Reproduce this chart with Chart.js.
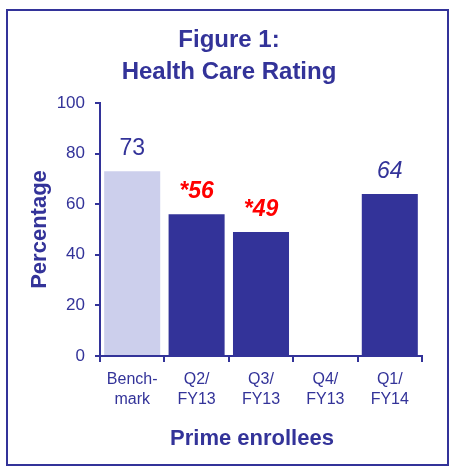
<!DOCTYPE html>
<html>
<head>
<meta charset="utf-8">
<script src="https://cdn.jsdelivr.net/npm/chart.js@4"></script>
<style>
  html, body { margin: 0; padding: 0; background: #fff; }
  #wrap { position: relative; width: 450px; height: 466px; overflow: hidden; }
  #frame {
    position: absolute; left: 6px; top: 9px; width: 439px; height: 453px;
    border: 2px solid #333399; pointer-events: none;
  }
  canvas { position: absolute; left: 0; top: 0; }
</style>
</head>
<body>
<div id="wrap">
  <canvas id="chart" width="450" height="466"></canvas>
  <div id="frame"></div>
</div>
<script>
// Data
const categories = [['Bench-', 'mark'], ['Q2/', 'FY13'], ['Q3/', 'FY13'], ['Q4/', 'FY13'], ['Q1/', 'FY14']];
const values = [73, 56, 49, null, 64];
const significant = [false, true, true, false, false];
const yTicks = [0, 20, 40, 60, 80, 100];

const navy = '#333399';
const lightBar = '#CCCFEC';
const font = '"Liberation Sans", Arial, sans-serif';

// Bar colours: first bar is the benchmark
const barColors = values.map((v, i) => i === 0 ? lightBar : navy);

// Draws value labels above the bars and the text titles
const labelPlugin = {
  id: 'labels',
  afterDatasetsDraw(chart) {
    const ctx = chart.ctx;
    const meta = chart.getDatasetMeta(0);
    ctx.save();
    ctx.textAlign = 'center';
    ctx.textBaseline = 'alphabetic';
    meta.data.forEach((bar, i) => {
      if (values[i] === null) return;
      let text = String(values[i]);
      if (significant[i]) {
        text = '*' + text;
        ctx.fillStyle = '#FF0000';
        ctx.font = 'italic bold 23px ' + font;
      } else if (i === 0) {
        ctx.fillStyle = navy;
        ctx.font = '23px ' + font;
      } else {
        ctx.fillStyle = navy;
        ctx.font = 'italic 23px ' + font;
      }
      ctx.fillText(text, bar.x, bar.y - 16);
    });

    // Figure title
    ctx.fillStyle = navy;
    ctx.font = 'bold 24px ' + font;
    ctx.fillText('Figure 1:', 229, 47);
    ctx.fillText('Health Care Rating', 229, 79);

    // X axis title
    ctx.font = 'bold 22px ' + font;
    ctx.fillText('Prime enrollees', 252, 445);
    ctx.restore();
  }
};

new Chart(document.getElementById('chart'), {
  type: 'bar',
  data: {
    labels: categories,
    datasets: [{
      data: values,
      backgroundColor: barColors,
      borderWidth: 0,
      barPercentage: 0.87,
      categoryPercentage: 1
    }]
  },
  options: {
    responsive: false,
    animation: false,
    layout: { padding: { top: 103, right: 28, bottom: 0, left: 0 } },
    plugins: {
      legend: { display: false },
      tooltip: { enabled: false }
    },
    scales: {
      x: {
        afterFit(scale) { scale.height = 110; },
        grid: { drawOnChartArea: false, drawTicks: true, tickLength: 6, color: navy, lineWidth: 2 },
        border: { color: navy, width: 2 },
        ticks: {
          color: navy,
          padding: 8,
          font: { family: font, size: 16, lineHeight: 1.25 },
          maxRotation: 0,
          autoSkip: false
        }
      },
      y: {
        min: 0,
        max: 100,
        afterFit(scale) { scale.width = 100; },
        afterBuildTicks(scale) { scale.ticks = yTicks.map(v => ({ value: v })); },
        grid: { drawOnChartArea: false, drawTicks: true, tickLength: 5, color: navy, lineWidth: 2 },
        border: { color: navy, width: 2 },
        ticks: {
          color: navy,
          padding: 10,
          font: { family: font, size: 17 }
        },
        title: {
          display: true,
          text: 'Percentage',
          color: navy,
          padding: { top: 27, bottom: 0 },
          font: { family: font, size: 22, weight: 'bold' }
        }
      }
    }
  },
  plugins: [labelPlugin]
});
</script>
</body>
</html>
